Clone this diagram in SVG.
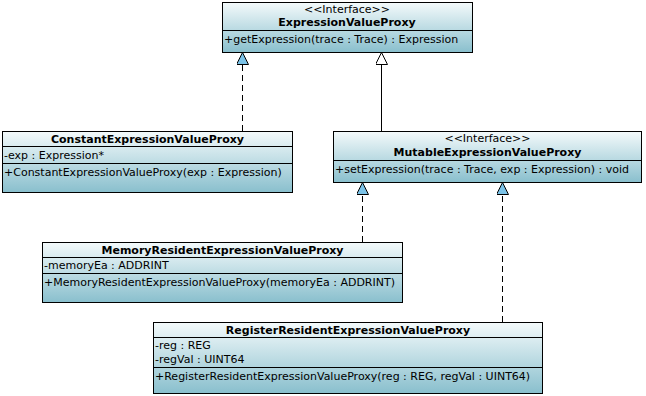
<svg xmlns="http://www.w3.org/2000/svg" width="646" height="396" viewBox="0 0 646 396">
  <defs>
    <linearGradient id="boxFill" x1="0" y1="0" x2="0" y2="1">
      <stop offset="0" stop-color="#f4fafb"/>
      <stop offset="1" stop-color="#89bfcd"/>
    </linearGradient>
    <marker id="realize" markerWidth="14" markerHeight="14" refX="12" refY="6" orient="auto" markerUnits="userSpaceOnUse">
      <path d="M0,0 L12,6 L0,12 Z" fill="#7cc3e8" stroke="#000" stroke-width="1"/>
    </marker>
    <marker id="extend" markerWidth="14" markerHeight="14" refX="12" refY="6" orient="auto" markerUnits="userSpaceOnUse">
      <path d="M0,0 L12,6 L0,12 Z" fill="#fff" stroke="#000" stroke-width="1"/>
    </marker>
  </defs>
  <style>
    .box { fill: url(#boxFill); stroke: #000; stroke-width: 1; }
    .sep { stroke: #000; stroke-width: 1; }
    text { font-family: "DejaVu Sans", "Noto Sans", sans-serif; font-size: 11px; fill: #000; }
    .name { font-weight: bold; text-anchor: middle; }
    .stereo { text-anchor: middle; }
    .link { fill: none; stroke: #000; stroke-width: 1; }
    .dashed { stroke-dasharray: 6 4; }
  </style>

  <rect width="646" height="396" fill="#fff"/>

  <g id="connectors">
    <line class="link dashed" x1="242.5" y1="131" x2="242.5" y2="52.5" marker-end="url(#realize)"/>
    <line class="link" x1="381.5" y1="131" x2="381.5" y2="52.5" marker-end="url(#extend)"/>
    <line class="link dashed" x1="362.5" y1="242" x2="362.5" y2="182.5" marker-end="url(#realize)"/>
    <line class="link dashed" x1="502.5" y1="322" x2="502.5" y2="182.5" marker-end="url(#realize)"/>
  </g>

  <g id="ExpressionValueProxy">
    <rect class="box" x="222.5" y="2.5" width="250" height="50"/>
    <line class="sep" x1="222.5" y1="30.5" x2="472.5" y2="30.5"/>
    <text class="stereo" x="347" y="13">&lt;&lt;Interface&gt;&gt;</text>
    <text class="name" x="347" y="26">ExpressionValueProxy</text>
    <text x="224" y="43">+getExpression(trace : Trace) : Expression</text>
  </g>

  <g id="ConstantExpressionValueProxy">
    <rect class="box" x="2.5" y="131.5" width="290" height="61"/>
    <line class="sep" x1="2.5" y1="146.5" x2="292.5" y2="146.5"/>
    <line class="sep" x1="2.5" y1="163.5" x2="292.5" y2="163.5"/>
    <text class="name" x="147.5" y="143">ConstantExpressionValueProxy</text>
    <text x="4" y="159">-exp : Expression*</text>
    <text x="4" y="176">+ConstantExpressionValueProxy(exp : Expression)</text>
  </g>

  <g id="MutableExpressionValueProxy">
    <rect class="box" x="333.5" y="131.5" width="308" height="51"/>
    <line class="sep" x1="333.5" y1="160.5" x2="641.5" y2="160.5"/>
    <text class="stereo" x="487.5" y="142">&lt;&lt;Interface&gt;&gt;</text>
    <text class="name" x="487.5" y="156">MutableExpressionValueProxy</text>
    <text x="335" y="173">+setExpression(trace : Trace, exp : Expression) : void</text>
  </g>

  <g id="MemoryResidentExpressionValueProxy">
    <rect class="box" x="42.5" y="242.5" width="360" height="60"/>
    <line class="sep" x1="42.5" y1="257.5" x2="402.5" y2="257.5"/>
    <line class="sep" x1="42.5" y1="273.5" x2="402.5" y2="273.5"/>
    <text class="name" x="222.5" y="254">MemoryResidentExpressionValueProxy</text>
    <text x="44" y="269">-memoryEa : ADDRINT</text>
    <text x="44" y="286">+MemoryResidentExpressionValueProxy(memoryEa : ADDRINT)</text>
  </g>

  <g id="RegisterResidentExpressionValueProxy">
    <rect class="box" x="153.5" y="322.5" width="389" height="71"/>
    <line class="sep" x1="153.5" y1="337.5" x2="542.5" y2="337.5"/>
    <line class="sep" x1="153.5" y1="367.5" x2="542.5" y2="367.5"/>
    <text class="name" x="348" y="334">RegisterResidentExpressionValueProxy</text>
    <text x="155" y="349">-reg : REG</text>
    <text x="155" y="363">-regVal : UINT64</text>
    <text x="155" y="380">+RegisterResidentExpressionValueProxy(reg : REG, regVal : UINT64)</text>
  </g>
</svg>
